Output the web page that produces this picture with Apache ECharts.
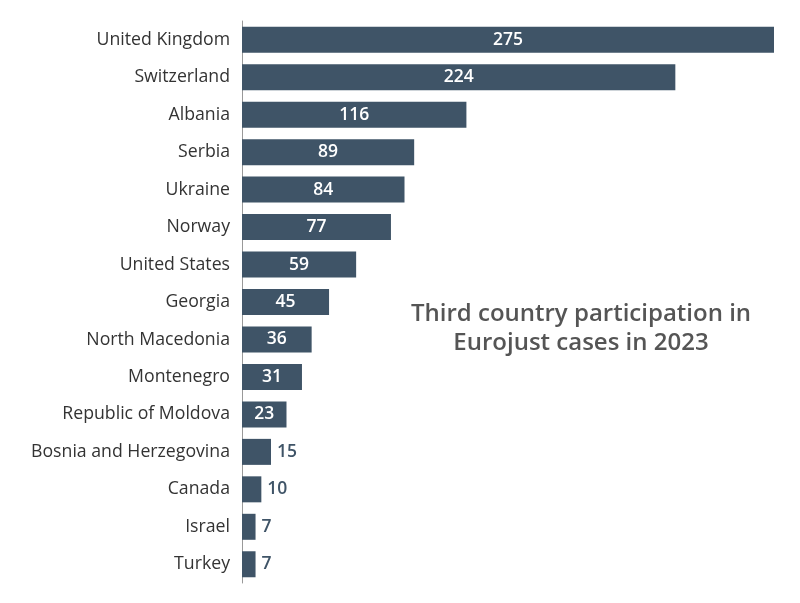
<!DOCTYPE html>
<html lang="en">
<head>
  <meta charset="UTF-8">
  <script src="https://cdn.jsdelivr.net/npm/echarts@6/dist/echarts.min.js"></script>
  <style>
    html, body, main { height: 100%; width: 100%; margin: 0; padding: 0; background: #fff; }
  </style>
</head>
<body>
  <main></main>
<script>
  const countries = ['United Kingdom', 'Switzerland', 'Albania', 'Serbia', 'Ukraine', 'Norway',
    'United States', 'Georgia', 'North Macedonia', 'Montenegro', 'Republic of Moldova',
    'Bosnia and Herzegovina', 'Canada', 'Israel', 'Turkey']
  const cases = [275, 224, 116, 89, 84, 77, 59, 45, 36, 31, 23, 15, 10, 7, 7]
  const title = 'Third country participation in\nEurojust cases in 2023'

  const barColor = '#3f5467'
  const data = cases.map((v) => ({
    value: v,
    label: v >= 20
      ? { position: 'inside', color: '#fff' }
      : { position: 'right', color: barColor, distance: 6 }
  }))

  const option = {
    textStyle: { fontFamily: 'Open Sans' },
    title: {
      text: title,
      left: 576,
      top: 295,
      textAlign: 'center',
      textStyle: { fontSize: 24, fontWeight: 600, color: '#555', lineHeight: 29, fontFamily: 'Open Sans' }
    },
    grid: { left: 242, right: 26, top: 21, bottom: 20 },
    xAxis: { type: 'value', min: 0, max: 275, show: false },
    yAxis: {
      type: 'category',
      data: countries,
      inverse: true,
      axisLine: { show: true, lineStyle: { color: '#999', width: 1 } },
      axisTick: { show: false },
      axisLabel: { fontSize: 17.7, color: '#333', margin: 12, fontFamily: 'Open Sans' }
    },
    series: [{
      type: 'bar',
      data: data,
      barWidth: 26,
      itemStyle: { color: barColor },
      label: { show: true, fontSize: 17.5, fontWeight: 600, fontFamily: 'Open Sans' }
    }]
  }
  echarts.init(document.getElementsByTagName('main')[0]).setOption(option)
</script>
</body>
</html>
